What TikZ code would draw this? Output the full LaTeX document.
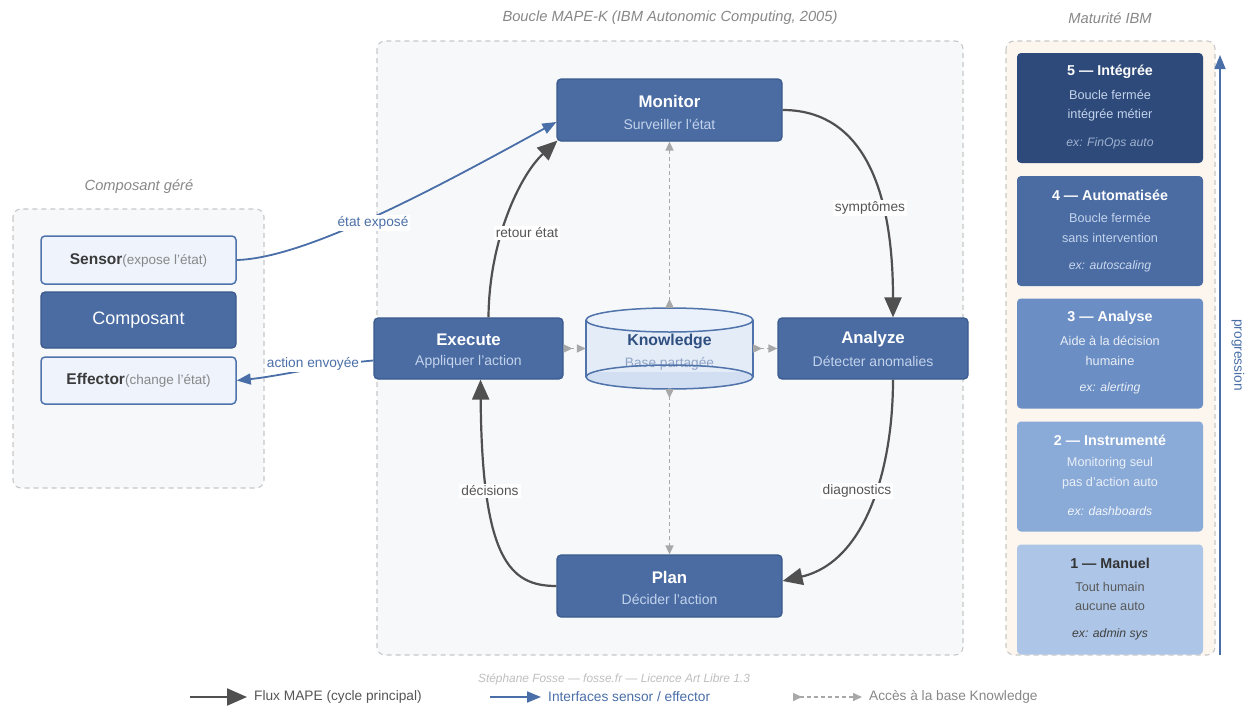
\documentclass[tikz,border=0pt]{standalone}
\usepackage{fontspec}
\setmainfont{Liberation Sans}
\usetikzlibrary{arrows.meta,calc,shapes.geometric}
\definecolor{mainblue}{HTML}{4A6CA3}
\definecolor{mainborder}{HTML}{3A5A8C}
\definecolor{subblue}{HTML}{C3D3EC}
\definecolor{panelgray}{HTML}{C8C8C8}
\definecolor{panelfill}{HTML}{F7F8FA}
\definecolor{matfill}{HTML}{FDF6EE}
\definecolor{darkarrow}{HTML}{505050}
\definecolor{arrowblue}{HTML}{4A6FA8}
\definecolor{kgray}{HTML}{A8A8A8}
\definecolor{lblgray}{HTML}{555555}
\definecolor{titlegray}{HTML}{888888}
\definecolor{lightbox}{HTML}{EEF3FC}
\definecolor{kbody}{HTML}{E4ECF8}
\definecolor{ktop}{HTML}{EAF1FB}
\definecolor{kbot}{HTML}{D2DEF1}
\definecolor{kline}{HTML}{4F73AA}
\definecolor{ktext}{HTML}{2F4F80}
\definecolor{ksub}{HTML}{8FA4C6}
\definecolor{lvA}{HTML}{2D4A7A}
\definecolor{lvB}{HTML}{4A6CA3}
\definecolor{lvC}{HTML}{6B8FC5}
\definecolor{lvD}{HTML}{8AAAD8}
\definecolor{lvE}{HTML}{ADC6E7}
\begin{document}
\begin{tikzpicture}[x=1pt,y=-1pt,
  panel/.style={draw=panelgray, dash pattern=on 5pt off 4pt, line width=1.1pt, rounded corners=8pt},
  mapebox/.style={rectangle, rounded corners=4pt, fill=mainblue, draw=mainborder, line width=1.2pt, inner sep=0pt},
  ttl/.style={text=white, font=\fontsize{16.8}{20}\selectfont\bfseries, inner sep=0pt},
  sub/.style={text=subblue, font=\fontsize{14}{17}\selectfont, inner sep=0pt},
  lbl/.style={fill=white, text=lblgray, font=\fontsize{13.7}{16}\selectfont, inner sep=2pt},
  blbl/.style={fill=white, text=arrowblue, font=\fontsize{13.7}{16}\selectfont, inner sep=2pt},
  ptitle/.style={text=titlegray, font=\fontsize{14.7}{17}\selectfont\itshape, inner sep=0pt},
  iface/.style={rectangle, rounded corners=4pt, fill=lightbox, draw=kline, line width=1.5pt, minimum width=195pt, inner sep=0pt},
  cyc/.style={draw=darkarrow, line width=2.2pt, -{Triangle[length=20pt,width=17pt]}},
  intf/.style={draw=arrowblue, line width=1.8pt, -{Triangle[length=14pt,width=11pt]}},
  kacc/.style={draw=kgray, line width=1.5pt, dash pattern=on 4pt off 3pt, {Triangle[reversed,length=9pt,width=8pt]}-{Triangle[length=9pt,width=8pt]}},
  lvl/.style={rectangle, rounded corners=4pt, minimum width=186pt, minimum height=110pt, inner sep=0pt},
  lvt/.style={font=\fontsize{14.3}{17}\selectfont\bfseries, inner sep=0pt},
  lvs/.style={font=\fontsize{12.7}{15}\selectfont, inner sep=0pt},
  lve/.style={font=\fontsize{12.2}{14}\selectfont\itshape, inner sep=0pt},
  leg/.style={font=\fontsize{13.7}{16}\selectfont, inner sep=0pt, anchor=west}
]
\useasboundingbox (0,0) rectangle (1247,707);
\fill[white] (0,0) rectangle (1247,707);

% panels
\draw[panel, fill=panelfill] (377,41) rectangle (963,655);
\draw[panel, fill=panelfill] (13,209) rectangle (264,488);
\draw[panel, fill=matfill] (1006,41) rectangle (1215,655);
\node[ptitle] (tmape) at (670,18) {Boucle MAPE-K (IBM Autonomic Computing, 2005)};
\node[ptitle] (tcomp) at (139,187) {Composant géré};
\node[ptitle] (tmat) at (1110,18) {Maturité IBM};

% managed component
\node[iface, minimum height=48pt] (sensor) at (138.5,260) {\textcolor{lblgray!70!black}{\fontsize{15.5}{18}\selectfont\bfseries Sensor}\textcolor{titlegray}{\fontsize{13.5}{16}\selectfont(expose l'état)}};
\node[rectangle, rounded corners=4pt, fill=mainblue, draw=mainborder, line width=1.2pt, minimum width=195pt, minimum height=56pt, text=white, font=\fontsize{18}{21}\selectfont] (comp) at (138.5,320) {Composant};
\node[iface, minimum height=47pt] (eff) at (138.5,380.5) {\textcolor{lblgray!70!black}{\fontsize{15.5}{18}\selectfont\bfseries Effector}\textcolor{titlegray}{\fontsize{13.5}{16}\selectfont(change l'état)}};

% MAPE boxes
\node[mapebox, minimum width=225pt, minimum height=62pt] (mon) at (669.5,110) {};
\node[ttl] (monT) at ($(mon)+(0,-9)$) {Monitor};
\node[sub] (monS) at ($(mon)+(0,14)$) {Surveiller l'état};

\node[mapebox, minimum width=189pt, minimum height=61pt] (exe) at (468.5,348.5) {};
\node[ttl] (exeT) at ($(exe)+(0,-9)$) {Execute};
\node[sub] (exeS) at ($(exe)+(0,13)$) {Appliquer l'action};

\node[mapebox, minimum width=190pt, minimum height=61pt] (ana) at (873,348.5) {};
\node[ttl] (anaT) at ($(ana)+(0,-9)$) {Analyze};
\node[sub] (anaS) at ($(ana)+(0,13)$) {Détecter anomalies};

\node[mapebox, minimum width=225pt, minimum height=62pt] (plan) at (669.5,586) {};
\node[ttl] (planT) at ($(plan)+(0,-9)$) {Plan};
\node[sub] (planS) at ($(plan)+(0,13)$) {Décider l'action};

% Knowledge cylinder
\node[rectangle, minimum width=167pt, minimum height=81pt, inner sep=0pt] (kn) at (669.5,348.5) {};
\fill[kbody] (586,320) rectangle (753,377);
\node[ellipse, fill=kbot, minimum width=167pt, minimum height=24pt, inner sep=0pt] (kbotF) at (669.5,377) {};
\fill[kbody] (586,320) rectangle (753,372);
\draw[kline, line width=1.5pt] (586,320) -- (586,377) (753,320) -- (753,377);
\node[ellipse, draw=kline, fill=ktop, line width=1.5pt, minimum width=167pt, minimum height=24pt, inner sep=0pt] (ktopE) at (669.5,320) {};
\node[text=ktext, font=\fontsize{15.8}{19}\selectfont\bfseries, inner sep=0pt] (knT) at (669.5,341) {Knowledge};
\node[text=ksub, font=\fontsize{13.7}{16}\selectfont, inner sep=0pt] (knS) at (669.5,364) {Base partagée};
\node[ellipse, draw=kline, line width=1.5pt, minimum width=167pt, minimum height=24pt, inner sep=0pt] (kbotE) at (669.5,377) {};

% knowledge access
\draw[kacc] (kn.north) -- (mon.south);
\draw[kacc] (kn.south) -- (plan.north);
\draw[kacc] (exe.east) -- (kn.west);
\draw[kacc] (kn.east) -- (ana.west);

% MAPE cycle
\draw[cyc] (mon.east) .. controls (855,110) and (893,175) .. ($(ana.north)+(20,0)$);
\draw[cyc] ($(ana.south)+(20,0)$) .. controls (893,470) and (865,562) .. ($(plan.east)+(0,-5)$);
\draw[cyc] (plan.west) .. controls (510,586) and (482,560) .. ($(exe.south)+(12,0)$);
\draw[cyc] ($(exe.north)+(20,0)$) .. controls (489,240) and (520,175) .. ($(mon.south west)+(1,-1)$);

% interfaces
\draw[intf] (sensor.east) .. controls (310,258) and (450,180) .. ($(mon.west)+(0,12)$);
\draw[intf] ($(exe.west)+(0,12)$) .. controls (330,364) and (280,376) .. (eff.east);

% labels
\node[lbl] (lsym) at (870,208) {symptômes};
\node[lbl] (ldia) at (857,491) {diagnostics};
\node[lbl] (ldec) at (490,491) {décisions};
\node[lbl] (lret) at (527,233) {retour état};
\node[blbl] (lexp) at (373,223) {état exposé};
\node[blbl] (lact) at (313,364) {action envoyée};

% maturity levels
\node[lvl, fill=lvA] (l5) at (1110,108) {};
\node[lvt, text=white] (l5t) at ($(l5)+(0,-36)$) {5 — Intégrée};
\node[lvs, text=subblue] (l5a) at ($(l5)+(0,-13)$) {Boucle fermée};
\node[lvs, text=subblue] (l5b) at ($(l5)+(0,7)$) {intégrée métier};
\node[lve, text=subblue!75!lvA] (l5e) at ($(l5)+(0,35)$) {ex: FinOps auto};

\node[lvl, fill=lvB] (l4) at (1110,231) {};
\node[lvt, text=white] (l4t) at ($(l4)+(0,-36)$) {4 — Automatisée};
\node[lvs, text=subblue] (l4a) at ($(l4)+(0,-13)$) {Boucle fermée};
\node[lvs, text=subblue] (l4b) at ($(l4)+(0,7)$) {sans intervention};
\node[lve, text=subblue!90!white] (l4e) at ($(l4)+(0,35)$) {ex: autoscaling};

\node[lvl, fill=lvC] (l3) at (1110,353.5) {};
\node[lvt, text=white] (l3t) at ($(l3)+(0,-36)$) {3 — Analyse};
\node[lvs, text=white!85!lvC] (l3a) at ($(l3)+(0,-13)$) {Aide à la décision};
\node[lvs, text=white!85!lvC] (l3b) at ($(l3)+(0,7)$) {humaine};
\node[lve, text=white!85!lvC] (l3e) at ($(l3)+(0,35)$) {ex: alerting};

\node[lvl, fill=lvD] (l2) at (1110,476.5) {};
\node[lvt, text=white] (l2t) at ($(l2)+(0,-36)$) {2 — Instrumenté};
\node[lvs, text=white!82!lvD] (l2a) at ($(l2)+(0,-13)$) {Monitoring seul};
\node[lvs, text=white!82!lvD] (l2b) at ($(l2)+(0,7)$) {pas d'action auto};
\node[lve, text=white!90!lvD] (l2e) at ($(l2)+(0,35)$) {ex: dashboards};

\node[lvl, fill=lvE] (l1) at (1110,599.5) {};
\node[lvt, text=black!80] (l1t) at ($(l1)+(0,-36)$) {1 — Manuel};
\node[lvs, text=black!65] (l1a) at ($(l1)+(0,-13)$) {Tout humain};
\node[lvs, text=black!65] (l1b) at ($(l1)+(0,7)$) {aucune auto};
\node[lve, text=black!75] (l1e) at ($(l1)+(0,35)$) {ex: admin sys};

% progression
\coordinate (p0) at (1220,655);
\coordinate (p1) at (1220,55);
\draw[intf, line width=1.5pt] (p0) -- (p1);
\node[rotate=-90, text=arrowblue, font=\fontsize{13.7}{16}\selectfont, inner sep=0pt] (lprog) at (1238,355) {progression};

% credit & legend
\node[text=black!25, font=\fontsize{11.9}{14}\selectfont\itshape, inner sep=0pt] (credit) at (614,679) {Stéphane Fosse — fosse.fr — Licence Art Libre 1.3};
\coordinate (g1a) at (190,697); \coordinate (g1b) at (247,697);
\draw[cyc] (g1a) -- (g1b);
\node[leg, text=lblgray] (g1) at (254,697) {Flux MAPE (cycle principal)};
\coordinate (g2a) at (490,697); \coordinate (g2b) at (541,697);
\draw[intf] (g2a) -- (g2b);
\node[leg, text=arrowblue] (g2) at (548,697) {Interfaces sensor / effector};
\coordinate (g3a) at (793,697); \coordinate (g3b) at (862,697);
\draw[kacc] (g3a) -- (g3b);
\node[leg, text=titlegray] (g3) at (869,697) {Accès à la base Knowledge};
\end{tikzpicture}
\end{document}
